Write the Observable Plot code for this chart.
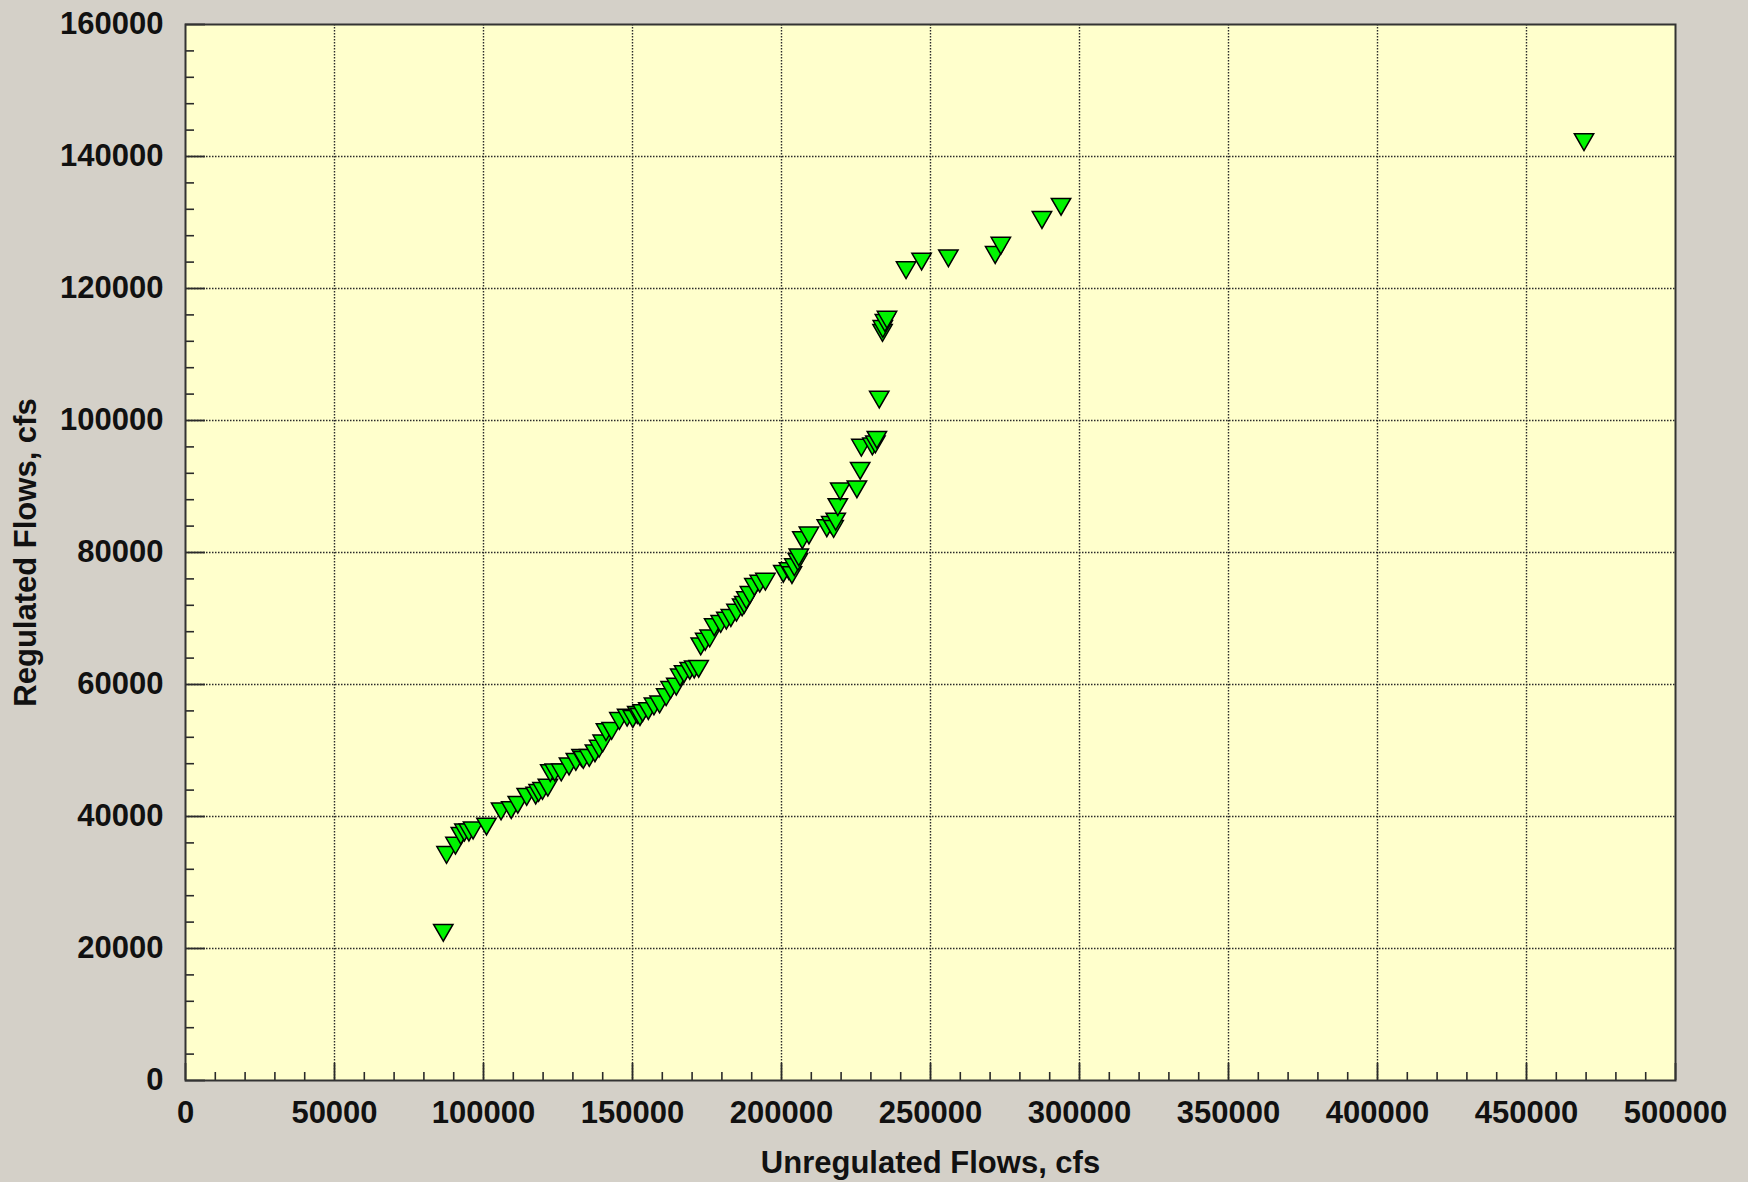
<!DOCTYPE html>
<html>
<head>
<meta charset="utf-8">
<script src="https://cdn.jsdelivr.net/npm/d3@7"></script>
<script src="https://cdn.jsdelivr.net/npm/@observablehq/plot@0.6"></script>
<style>
  html, body { margin: 0; padding: 0; background: #d4d0c8; }
  #chart svg { display: block; }
</style>
</head>
<body>
<div id="chart"></div>
<script>
// Unregulated flows (cfs) — x values
const unregulated = [
  86500, 87600, 90600, 92400, 93600, 95100, 96500, 101000, 105900, 109300,
  111500, 114500, 117500, 118500, 119800, 121600, 122400, 123900, 126100, 128700,
  131000, 132900, 133500, 135500, 137400, 138800, 140000, 141100, 143000, 145600,
  148200, 150100, 151600, 152500, 153400, 155300, 157200, 159100, 161300, 162800,
  164700, 166000, 167300, 169200, 170700, 172200, 172900, 174400, 175900, 177400,
  179600, 181500, 183000, 184900, 186800, 187500, 188200, 189400, 190900, 192700,
  194600, 200600, 202500, 203500, 204300, 205500, 205800, 207000, 209200, 215200,
  216700, 217500, 218200, 218900, 219700, 225300, 226400, 226800, 230500, 231500,
  232000, 232800, 233900, 234000, 234700, 235400, 241800, 247000, 256000, 271700,
  273600, 287400, 293800, 469300
];
// Regulated flows (cfs) — y values
const regulated = [
  22800, 34600, 36000, 37500, 38000, 38000, 38300, 38900, 41200, 41400,
  42200, 43400, 43600, 44000, 44300, 44800, 47000, 47100, 47100, 48000,
  48700, 49300, 49000, 49300, 50000, 50700, 51500, 53200, 53400, 54900,
  55400, 55200, 55800, 55500, 56100, 56400, 57100, 57400, 58500, 59600,
  60100, 61500, 62000, 62500, 62700, 62800, 66200, 66900, 67400, 69100,
  69600, 70100, 70500, 71300, 72100, 72500, 73200, 74000, 75200, 75700,
  76000, 77200, 77600, 77000, 78200, 79000, 79700, 82300, 83000, 84100,
  84600, 84000, 85100, 87300, 89700, 90000, 92800, 96300, 96500, 96800,
  97500, 103600, 113700, 114300, 115200, 115700, 123200, 124500, 125000, 125500,
  126900, 130800, 132800, 142600
];
// Axis ticks
const xMajorTicks = [0, 50000, 100000, 150000, 200000, 250000, 300000, 350000, 400000, 450000, 500000];
const yMajorTicks = [0, 20000, 40000, 60000, 80000, 100000, 120000, 140000, 160000];
const xMinorTicks = d3.range(0, 500001, 10000).filter(v => v % 50000 !== 0);
const yMinorTicks = d3.range(0, 160001, 4000).filter(v => v % 20000 !== 0);
const xGrid = xMajorTicks.filter(v => v > 0 && v < 500000);
const yGrid = yMajorTicks.filter(v => v > 0 && v < 160000);

const points = unregulated.map((x, i) => ({x, y: regulated[i]}));

const W = 1748, H = 1182;
const mL = 185, mR = 73, mT = 24, mB = 102;
const innerH = H - mT - mB;
const innerW = W - mL - mR;
const ink = "#2a2a2a";

const chart = Plot.plot({
  width: W,
  height: H,
  marginLeft: mL,
  marginRight: mR,
  marginTop: mT,
  marginBottom: mB,
  style: {
    background: "#d4d0c8",
    fontFamily: "'Liberation Sans', Arial, sans-serif",
    fontSize: "31px",
    fontWeight: "bold",
    color: "#111"
  },
  x: {domain: [0, 500000]},
  y: {domain: [0, 160000]},
  marks: [
    Plot.frame({fill: "#ffffcc", stroke: null}),
    Plot.ruleX(xGrid, {x: d => d, stroke: ink, strokeWidth: 1.4, strokeDasharray: "1.5,1.5"}),
    Plot.ruleY(yGrid, {y: d => d, stroke: ink, strokeWidth: 1.4, strokeDasharray: "1.5,1.5"}),
    // minor / major ticks drawn inward
    Plot.ruleX(xMinorTicks, {x: d => d, insetTop: innerH - 8, stroke: ink, strokeWidth: 1.6}),
    Plot.ruleX(xMajorTicks, {x: d => d, insetTop: innerH - 17, stroke: ink, strokeWidth: 1.8}),
    Plot.ruleY(yMinorTicks, {y: d => d, insetRight: innerW - 9, stroke: ink, strokeWidth: 1.6}),
    Plot.ruleY(yMajorTicks, {y: d => d, insetRight: innerW - 20, stroke: ink, strokeWidth: 1.8}),
    Plot.frame({stroke: "#333", strokeWidth: 2}),
    Plot.axisX({
      ticks: xMajorTicks, tickSize: 0, tickPadding: 20, tickFormat: d => String(d),
      label: "Unregulated Flows, cfs", labelAnchor: "center", labelOffset: 92, labelArrow: "none"
    }),
    Plot.axisY({
      ticks: yMajorTicks, tickSize: 0, tickPadding: 22, tickFormat: d => String(d),
      label: "Regulated Flows, cfs", labelAnchor: "center", labelOffset: 172, labelArrow: "none"
    }),
    Plot.dot(points, {
      x: "x", y: "y", symbol: "triangle", rotate: 180, r: 7.2,
      fill: "#00f400", stroke: "#000", strokeWidth: 1.5
    })
  ]
});
document.getElementById("chart").appendChild(chart);
</script>
</body>
</html>
